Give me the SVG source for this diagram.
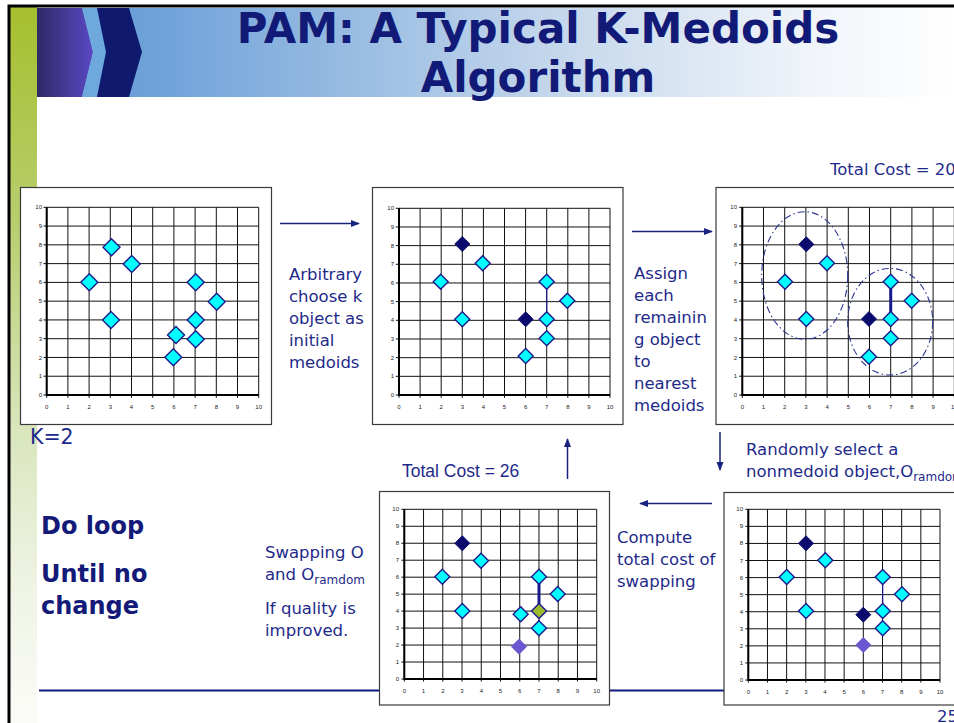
<svg xmlns="http://www.w3.org/2000/svg" xmlns:xlink="http://www.w3.org/1999/xlink" width="954" height="723" viewBox="0 0 954 723">
<style>
.box{fill:#fff;stroke:#3a3a3a;stroke-width:1.2}
.grid{fill:none;stroke:#111;stroke-width:1;vector-effect:non-scaling-stroke}
.ax{fill:none;stroke:#000;stroke-width:2;vector-effect:non-scaling-stroke}
.tk{font-family:"Liberation Sans",Arial,sans-serif;font-size:6px;fill:#222}
.ty{text-anchor:end}
.tx{text-anchor:middle}
.cy{fill:#00FFFF;stroke:#1A1A8C;stroke-width:1.4}
.dk{fill:#0B0B6E;stroke:#0B0B6E;stroke-width:1}
.pu{fill:#6A58D0;stroke:#6A58D0;stroke-width:1}
.ol{fill:#9BBA2C;stroke:#1A1A8C;stroke-width:1.4}
.lbl{font-family:"DejaVu Sans",Verdana,sans-serif;font-size:16.5px;fill:#1E2A8A}
.arial{font-family:"Liberation Sans",Arial,sans-serif;font-size:17.5px;fill:#1E2A8A}
.big{font-family:"DejaVu Sans",Verdana,sans-serif;font-weight:bold;font-size:24px;fill:#131A78}
.title{font-family:"DejaVu Sans",Verdana,sans-serif;font-weight:bold;font-size:42px;fill:#121A78;text-anchor:middle}
.conn{stroke:#1A237E;stroke-width:1.5;fill:none;marker-end:url(#ah)}
.ell{fill:none;stroke:#2A3590;stroke-width:1.1;stroke-dasharray:7 3 1.5 3}
.link{stroke:#1A1A8C;fill:none}
</style>
<defs>
<linearGradient id="hdr" x1="0" y1="0" x2="1" y2="0">
<stop offset="0" stop-color="#5E96D2"/>
<stop offset="0.15" stop-color="#72A4DA"/>
<stop offset="0.55" stop-color="#C2D5EB"/>
<stop offset="0.85" stop-color="#F1F5FA"/>
<stop offset="1" stop-color="#FFFFFF"/>
</linearGradient>
<linearGradient id="pur" x1="0" y1="0" x2="1" y2="0">
<stop offset="0" stop-color="#2E2A66"/>
<stop offset="1" stop-color="#5A48C4"/>
</linearGradient>
<linearGradient id="grn" x1="0" y1="0" x2="0" y2="1">
<stop offset="0" stop-color="#A6BF2E"/>
<stop offset="0.3" stop-color="#B8CE6E"/>
<stop offset="0.58" stop-color="#D8E5BA"/>
<stop offset="0.8" stop-color="#EEF3E3"/>
<stop offset="1" stop-color="#FBFCF8"/>
</linearGradient>
<marker id="ah" viewBox="0 0 10 10" refX="9" refY="5" markerWidth="9" markerHeight="9" orient="auto" markerUnits="userSpaceOnUse">
<path d="M0 1 L10 5 L0 9 Z" fill="#1A237E"/>
</marker>
<path id="g" class="grid" d="M0 0V10M1 0V10M2 0V10M3 0V10M4 0V10M5 0V10M6 0V10M7 0V10M8 0V10M9 0V10M10 0V10M0 0H10M0 1H10M0 2H10M0 3H10M0 4H10M0 5H10M0 6H10M0 7H10M0 8H10M0 9H10M0 10H10M-0.15 0H0M-0.15 1H0M-0.15 2H0M-0.15 3H0M-0.15 4H0M-0.15 5H0M-0.15 6H0M-0.15 7H0M-0.15 8H0M-0.15 9H0M-0.15 10H0M0 -0.15V0M1 -0.15V0M2 -0.15V0M3 -0.15V0M4 -0.15V0M5 -0.15V0M6 -0.15V0M7 -0.15V0M8 -0.15V0M9 -0.15V0M10 -0.15V0"/>
<path id="a" class="ax" d="M0 10V0H10"/>
<path id="dL" d="M0 -8.5L8.5 0L0 8.5L-8.5 0Z"/>
<path id="dS" d="M0 -7.5L7.5 0L0 7.5L-7.5 0Z"/>
</defs>

<!-- slide frame -->
<rect x="0" y="0" width="954" height="723" fill="#fff"/>
<rect x="10" y="7" width="27" height="716" fill="url(#grn)"/>
<rect x="37" y="8" width="917" height="89" fill="url(#hdr)"/>
<polygon points="37,8 82,8 93,52 82,97 37,97" fill="url(#pur)"/>
<polygon points="82,8 97,8 106,52 97,97 82,97 93,52" fill="#6EA8DC"/>
<polygon points="97,8 129,8 142,52 129,97 97,97 106,52" fill="#0F1A6E"/>
<path d="M9 723V6H954" fill="none" stroke="#000" stroke-width="3"/>
<text class="title" x="538" y="43">PAM: A Typical K-Medoids</text>
<text class="title" x="538" y="92">Algorithm</text>

<!-- bottom rule -->
<line x1="39" y1="690.5" x2="724" y2="690.5" stroke="#0E1A80" stroke-width="2"/>

<!-- chart 1 -->
<g id="chart1">
<rect class="box" x="20.5" y="187.5" width="251" height="237"/>
<use xlink:href="#g" transform="translate(46.7 395) scale(21.2 -18.77)"/>
<use xlink:href="#a" transform="translate(46.7 395) scale(21.2 -18.77)"/>
<g class="tk ty">
<text x="42" y="397">0</text><text x="42" y="378.2">1</text><text x="42" y="359.5">2</text><text x="42" y="340.7">3</text><text x="42" y="321.9">4</text><text x="42" y="303.2">5</text><text x="42" y="284.4">6</text><text x="42" y="265.6">7</text><text x="42" y="246.8">8</text><text x="42" y="228.1">9</text><text x="42" y="209.3">10</text>
</g>
<g class="tk tx">
<text x="46.7" y="409">0</text><text x="67.9" y="409">1</text><text x="89.1" y="409">2</text><text x="110.3" y="409">3</text><text x="131.5" y="409">4</text><text x="152.7" y="409">5</text><text x="173.9" y="409">6</text><text x="195.1" y="409">7</text><text x="216.3" y="409">8</text><text x="237.5" y="409">9</text><text x="258.7" y="409">10</text>
</g>
<g class="cy">
<use xlink:href="#dL" x="111.5" y="247.3"/>
<use xlink:href="#dL" x="131.7" y="264"/>
<use xlink:href="#dL" x="89.3" y="282.3"/>
<use xlink:href="#dL" x="111" y="320"/>
<use xlink:href="#dL" x="195.7" y="282.3"/>
<use xlink:href="#dL" x="216.7" y="301.7"/>
<use xlink:href="#dL" x="195.7" y="320"/>
<use xlink:href="#dL" x="176" y="335"/>
<use xlink:href="#dL" x="195.7" y="339.3"/>
<use xlink:href="#dL" x="173.3" y="357.3"/>
</g>
</g>

<!-- chart 2 -->
<g id="chart2">
<rect class="box" x="372.5" y="187.5" width="250.5" height="237"/>
<use xlink:href="#g" transform="translate(399 395) scale(21.1 -18.67)"/>
<use xlink:href="#a" transform="translate(399 395) scale(21.1 -18.67)"/>
<g class="tk ty">
<text x="394" y="397">0</text><text x="394" y="378.3">1</text><text x="394" y="359.7">2</text><text x="394" y="341">3</text><text x="394" y="322.3">4</text><text x="394" y="303.7">5</text><text x="394" y="285">6</text><text x="394" y="266.3">7</text><text x="394" y="247.6">8</text><text x="394" y="229">9</text><text x="394" y="210.3">10</text>
</g>
<g class="tk tx">
<text x="399" y="409">0</text><text x="420.1" y="409">1</text><text x="441.2" y="409">2</text><text x="462.3" y="409">3</text><text x="483.4" y="409">4</text><text x="504.5" y="409">5</text><text x="525.6" y="409">6</text><text x="546.7" y="409">7</text><text x="567.8" y="409">8</text><text x="588.9" y="409">9</text><text x="610" y="409">10</text>
</g>
<line class="link" x1="546.7" y1="281.7" x2="546.7" y2="319.3" stroke-width="1.2"/>
<use class="dk" xlink:href="#dS" x="462.3" y="244"/>
<use class="dk" xlink:href="#dS" x="525.7" y="319.3"/>
<g class="cy">
<use xlink:href="#dS" x="482.7" y="263.3"/>
<use xlink:href="#dS" x="440.7" y="281.7"/>
<use xlink:href="#dS" x="462.3" y="319.3"/>
<use xlink:href="#dS" x="546.7" y="281.7"/>
<use xlink:href="#dS" x="567.3" y="300.7"/>
<use xlink:href="#dS" x="546.7" y="319.3"/>
<use xlink:href="#dS" x="546.7" y="338.3"/>
<use xlink:href="#dS" x="525.7" y="356"/>
</g>
</g>

<!-- chart 3 -->
<g id="chart3">
<rect class="box" x="716" y="187.5" width="260" height="237"/>
<use xlink:href="#g" transform="translate(742.3 395) scale(21.2 -18.77)"/>
<use xlink:href="#a" transform="translate(742.3 395) scale(21.2 -18.77)"/>
<g class="tk ty">
<text x="737" y="397">0</text><text x="737" y="378.2">1</text><text x="737" y="359.5">2</text><text x="737" y="340.7">3</text><text x="737" y="321.9">4</text><text x="737" y="303.2">5</text><text x="737" y="284.4">6</text><text x="737" y="265.6">7</text><text x="737" y="246.8">8</text><text x="737" y="228.1">9</text><text x="737" y="209.3">10</text>
</g>
<g class="tk tx">
<text x="742.3" y="409">0</text><text x="763.5" y="409">1</text><text x="784.7" y="409">2</text><text x="805.9" y="409">3</text><text x="827.1" y="409">4</text><text x="848.3" y="409">5</text><text x="869.5" y="409">6</text><text x="890.7" y="409">7</text><text x="911.9" y="409">8</text><text x="933.1" y="409">9</text><text x="954.3" y="409">10</text>
</g>
<ellipse class="ell" cx="804.7" cy="275.5" rx="43" ry="63.8"/>
<ellipse class="ell" cx="890.2" cy="321.7" rx="42.5" ry="53.3"/>
<line class="link" x1="890.7" y1="281.7" x2="890.7" y2="319" stroke-width="3"/>
<use class="dk" xlink:href="#dS" x="806.3" y="244.3"/>
<use class="dk" xlink:href="#dS" x="869" y="319"/>
<g class="cy">
<use xlink:href="#dS" x="827" y="263.3"/>
<use xlink:href="#dS" x="785" y="281.7"/>
<use xlink:href="#dS" x="806.3" y="319"/>
<use xlink:href="#dS" x="890.7" y="281.7"/>
<use xlink:href="#dS" x="911.7" y="300.7"/>
<use xlink:href="#dS" x="890.7" y="319"/>
<use xlink:href="#dS" x="890.7" y="338.3"/>
<use xlink:href="#dS" x="869" y="356.7"/>
</g>
</g>

<!-- chart 4 -->
<g id="chart4">
<rect class="box" x="379.5" y="491.5" width="230" height="213.5"/>
<use xlink:href="#g" transform="translate(404.3 679) scale(19.24 -16.97)"/>
<use xlink:href="#a" transform="translate(404.3 679) scale(19.24 -16.97)"/>
<g class="tk ty">
<text x="399" y="681">0</text><text x="399" y="664">1</text><text x="399" y="647.1">2</text><text x="399" y="630.1">3</text><text x="399" y="613.1">4</text><text x="399" y="596.2">5</text><text x="399" y="579.2">6</text><text x="399" y="562.2">7</text><text x="399" y="545.2">8</text><text x="399" y="528.3">9</text><text x="399" y="511.3">10</text>
</g>
<g class="tk tx">
<text x="404.3" y="693">0</text><text x="423.5" y="693">1</text><text x="442.8" y="693">2</text><text x="462" y="693">3</text><text x="481.3" y="693">4</text><text x="500.5" y="693">5</text><text x="519.7" y="693">6</text><text x="539" y="693">7</text><text x="558.2" y="693">8</text><text x="577.5" y="693">9</text><text x="596.7" y="693">10</text>
</g>
<line class="link" x1="539" y1="576.7" x2="539" y2="604" stroke-width="3"/>
<use class="dk" xlink:href="#dS" x="462.3" y="543.3"/>
<g class="cy">
<use xlink:href="#dS" x="481" y="560.7"/>
<use xlink:href="#dS" x="442.3" y="576.7"/>
<use xlink:href="#dS" x="462.3" y="611"/>
<use xlink:href="#dS" x="539" y="576.7"/>
<use xlink:href="#dS" x="557.7" y="594"/>
<use xlink:href="#dS" x="520.7" y="614.3"/>
<use xlink:href="#dS" x="539" y="628.3"/>
</g>
<use class="ol" xlink:href="#dS" x="539" y="611"/>
<use class="pu" xlink:href="#dS" x="519" y="646.7"/>
</g>

<!-- chart 5 -->
<g id="chart5">
<rect class="box" x="724" y="492.5" width="240" height="212.5"/>
<use xlink:href="#g" transform="translate(748.3 680) scale(19.17 -17.07)"/>
<use xlink:href="#a" transform="translate(748.3 680) scale(19.17 -17.07)"/>
<g class="tk ty">
<text x="743" y="682">0</text><text x="743" y="664.9">1</text><text x="743" y="647.9">2</text><text x="743" y="630.8">3</text><text x="743" y="613.7">4</text><text x="743" y="596.7">5</text><text x="743" y="579.6">6</text><text x="743" y="562.5">7</text><text x="743" y="545.4">8</text><text x="743" y="528.4">9</text><text x="743" y="511.3">10</text>
</g>
<g class="tk tx">
<text x="748.3" y="694">0</text><text x="767.5" y="694">1</text><text x="786.6" y="694">2</text><text x="805.8" y="694">3</text><text x="825" y="694">4</text><text x="844.2" y="694">5</text><text x="863.3" y="694">6</text><text x="882.5" y="694">7</text><text x="901.7" y="694">8</text><text x="920.8" y="694">9</text><text x="940" y="694">10</text>
</g>
<line class="link" x1="882.7" y1="577" x2="882.7" y2="611" stroke-width="1.2"/>
<use class="dk" xlink:href="#dS" x="806" y="543.3"/>
<use class="dk" xlink:href="#dS" x="863.3" y="614.7"/>
<g class="cy">
<use xlink:href="#dS" x="825.3" y="560.3"/>
<use xlink:href="#dS" x="786.7" y="577"/>
<use xlink:href="#dS" x="806" y="611"/>
<use xlink:href="#dS" x="882.7" y="577"/>
<use xlink:href="#dS" x="902" y="594.3"/>
<use xlink:href="#dS" x="882.7" y="611"/>
<use xlink:href="#dS" x="882.7" y="628.3"/>
</g>
<use class="pu" xlink:href="#dS" x="863.3" y="645"/>
</g>

<!-- connectors -->
<g id="connectors">
<line class="conn" x1="280" y1="223.5" x2="359" y2="223.5"/>
<line class="conn" x1="632" y1="231.5" x2="712" y2="231.5"/>
<line class="conn" x1="720" y1="432" x2="720" y2="470"/>
<line class="conn" x1="712" y1="503.5" x2="640" y2="503.5"/>
<line class="conn" x1="567.5" y1="479" x2="567.5" y2="439"/>
</g>

<!-- labels -->
<g id="label-init" class="lbl">
<text x="289" y="280">Arbitrary</text>
<text x="289" y="302">choose k</text>
<text x="289" y="324">object as</text>
<text x="289" y="346">initial</text>
<text x="289" y="368">medoids</text>
</g>
<g id="label-assign" class="lbl">
<text x="634" y="279">Assign</text>
<text x="634" y="301">each</text>
<text x="634" y="323">remainin</text>
<text x="634" y="345">g object</text>
<text x="634" y="367">to</text>
<text x="634" y="389">nearest</text>
<text x="634" y="411">medoids</text>
</g>
<g id="label-cost20" class="lbl">
<text x="830" y="175">Total Cost = 20</text>
</g>
<g id="label-random" class="lbl">
<text x="746" y="455">Randomly select a</text>
<text x="746" y="477">nonmedoid object,O<tspan font-size="12" dy="4">ramdom</tspan></text>
</g>
<g id="label-compute" class="lbl">
<text x="617" y="543">Compute</text>
<text x="617" y="565">total cost of</text>
<text x="617" y="587">swapping</text>
</g>
<g id="label-cost26" class="arial">
<text x="402" y="477">Total Cost = 26</text>
</g>
<g id="label-swap" class="lbl">
<text x="265" y="558">Swapping O</text>
<text x="265" y="580">and O<tspan font-size="12" dy="4">ramdom</tspan></text>
<text x="265" y="614">If quality is</text>
<text x="265" y="636">improved.</text>
</g>
<g id="label-k" class="lbl">
<text x="30" y="444" font-size="20.5">K=2</text>
</g>
<g id="label-loop" class="big">
<text x="41" y="534">Do loop</text>
<text x="41" y="582">Until no</text>
<text x="41" y="614">change</text>
</g>
<text class="lbl" x="937" y="722" font-size="17">25</text>
</svg>
